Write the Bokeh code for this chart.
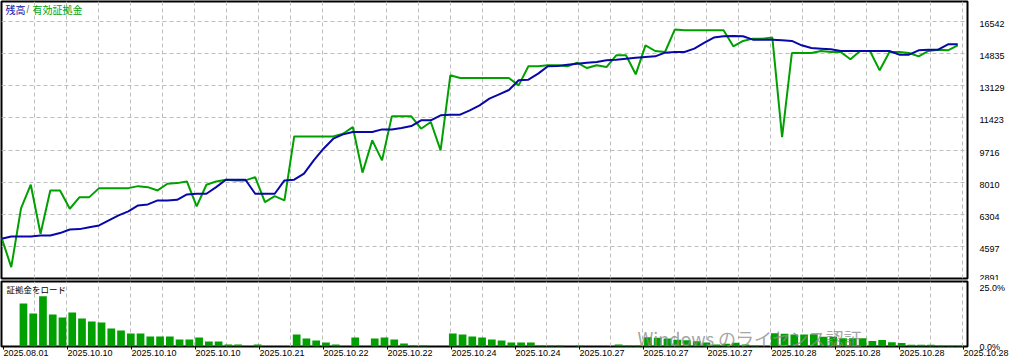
from bokeh.plotting import figure
from bokeh.models import Range1d, FixedTicker, Label, LinearAxis
from bokeh.layouts import column
from bokeh.embed import file_html
from bokeh.resources import INLINE

# ---------------- data ----------------
deal_index = list(range(99))
balance = [5001, 5124, 5124, 5124, 5177, 5177, 5304, 5496, 5514, 5618,
           5708, 5974, 6240, 6453, 6772, 6825, 7037, 7037, 7072, 7357,
           7393, 7393, 7744, 8138, 8138, 8138, 7393, 7393, 7393, 8101,
           8138, 8457, 9164, 9786, 10317, 10546, 10668, 10668, 10668, 10811,
           10811, 10881, 10988, 11290, 11290, 11556, 11593, 11593, 11822, 12088,
           12444, 12673, 12902, 13417, 13453, 13772, 14161, 14177, 14250, 14302,
           14355, 14390, 14480, 14514, 14567, 14620, 14656, 14692, 14887, 14922,
           14922, 15100, 15401, 15686, 15756, 15772, 15756, 15578, 15578, 15578,
           15543, 15508, 15277, 15135, 15100, 15065, 14975, 14975, 14975, 14975,
           14975, 14975, 14781, 14781, 15011, 15047, 15047, 15330, 15330]
equity = [5071, 3492, 6612, 7872, 5267, 7569, 7569, 6596, 7213, 7213,
          7691, 7691, 7691, 7691, 7797, 7744, 7569, 7925, 7957, 8047,
          6718, 7872, 8047, 8138, 8101, 8101, 8276, 6947, 7266, 7037,
          10440, 10440, 10440, 10440, 10440, 10582, 10935, 8514, 10227, 9164,
          11503, 11503, 11503, 10847, 11201, 9695, 13683, 13541, 13541, 13541,
          13541, 13541, 13541, 13151, 14161, 14161, 14214, 14214, 14161, 14355,
          14070, 14214, 14124, 14745, 14745, 13736, 15277, 14975, 14922, 16113,
          16074, 16074, 16074, 16074, 16074, 15224, 15508, 15632, 15632, 15686,
          10405, 14869, 14869, 14869, 14975, 14922, 14922, 14533, 14975, 14975,
          13948, 14922, 14922, 14869, 14692, 14975, 15047, 15011, 15277]
margin_load = [0, 0, 17.8, 13.6, 20.7, 13.2, 12.0, 14.0, 11.6, 10.3,
               9.9, 7.4, 6.6, 5.4, 5.4, 4.1, 4.1, 4.1, 2.9, 2.9,
               3.7, 2.1, 2.1, 0.8, 0.8, 0, 0.8, 0, 0, 0,
               5.0, 3.3, 2.5, 1.7, 0.8, 0, 3.7, 0, 3.3, 3.7,
               2.9, 1.2, 0.4, 0.4, 0, 0, 5.4, 5.0, 4.1, 3.7,
               2.9, 2.5, 1.7, 1.7, 1.7, 0.4, 0.4, 0.4, 0, 0.4,
               0, 0, 0, 0.8, 0.4, 0.4, 3.8, 3.6, 3.3, 2.8,
               2.6, 2.2, 1.6, 0.8, 1.1, 1.5, 0.8, 0.3, 0, 5.5,
               5.3, 5.0, 5.0, 5.1, 4.0, 4.0, 3.4, 3.4, 3.4, 2.3,
               2.7, 1.8, 1.4, 0.7, 0.7, 0.7, 0.3, 0.3, 0.3]
y_tick_values = [2891, 4597, 6304, 8010, 9716, 11423, 13129, 14835, 16542]
y_tick_labels = ["2891", "4597", "6304", "8010", "9716", "11423", "13129", "14835", "16542"]
load_tick_values = [0, 25]
load_tick_labels = ["0.0%", "25.0%"]
x_date_labels = ["2025.08.01", "2025.10.10", "2025.10.10", "2025.10.10",
                 "2025.10.21", "2025.10.22", "2025.10.22", "2025.10.24",
                 "2025.10.24", "2025.10.27", "2025.10.27", "2025.10.27",
                 "2025.10.28", "2025.10.28", "2025.10.28", "2025.10.28"]
title_balance = "残高"
title_sep = "/"
title_equity = "有効証拠金"
title_load = "証拠金をロード"
watermark = "Windows のライセンス認証"

# ---------------- style / layout ----------------
BLUE = "#0808A8"
GREEN = "#00A000"
GRID = "#BDBDBD"
W = 1011
FRAME_W = 966
X_END = 99
PX = FRAME_W / X_END
TOP_FH = 277
BOT_FH = 66
Y_START, Y_END = 2891, 17604
LOAD_END = 26.83
NUM_FONT = "Liberation Sans"
CJK_FONT = "Noto Sans CJK JP"

vgrid = [(33 + 32 * m) / PX for m in range(30)]
# date label anchors in frame pixels (extra x range in pixel units)
date_marks = [2 + 64 * m for m in range(len(x_date_labels))]


def style(p):
    p.min_border_left = 1
    p.min_border_right = W - 1 - FRAME_W
    p.min_border_top = 1
    p.outline_line_color = "black"
    p.outline_line_width = 2
    p.background_fill_color = "white"
    p.border_fill_color = "white"
    p.xgrid.ticker = FixedTicker(ticks=vgrid)
    p.xgrid.grid_line_color = GRID
    p.xgrid.grid_line_dash = "4 3"
    ax = p.yaxis[0]
    ax.axis_line_color = None
    ax.major_tick_line_color = None
    ax.minor_tick_line_color = None
    ax.major_label_standoff = 6
    ax.major_label_text_font = NUM_FONT
    ax.major_label_text_font_size = "9px"
    ax.major_label_text_color = "black"


# ---------------- top: balance / equity ----------------
top = figure(width=W, height=1 + TOP_FH + 2, output_backend="svg", toolbar_location=None,
             x_range=Range1d(0, X_END), y_range=Range1d(Y_START, Y_END),
             x_axis_location=None, y_axis_location="right")
style(top)
top.min_border_bottom = 2
unit_px = (Y_END - Y_START) / TOP_FH
tick_pos = [int(round(max(v - 2.5 * unit_px, Y_START))) for v in y_tick_values]
top.yaxis[0].ticker = FixedTicker(ticks=tick_pos)
top.yaxis[0].major_label_overrides = dict(zip(tick_pos, y_tick_labels))
top.ygrid.ticker = FixedTicker(ticks=y_tick_values[1:])
top.ygrid.grid_line_color = GRID
top.ygrid.grid_line_dash = "4 3"

top.line(deal_index, equity, line_color=GREEN, line_width=2)
top.line(deal_index, balance, line_color=BLUE, line_width=2)

top.add_layout(Label(x=4, y=TOP_FH - 8, x_units="screen", y_units="screen", text=title_balance,
                     text_font=CJK_FONT, text_font_size="10px", text_color=BLUE,
                     text_baseline="middle"))
top.add_layout(Label(x=25, y=TOP_FH - 8, x_units="screen", y_units="screen", text=title_sep,
                     text_font=NUM_FONT, text_font_size="10px", text_color="#8A6A40",
                     text_baseline="middle"))
top.add_layout(Label(x=31, y=TOP_FH - 8, x_units="screen", y_units="screen", text=title_equity,
                     text_font=CJK_FONT, text_font_size="10px", text_color=GREEN,
                     text_baseline="middle"))

# ---------------- bottom: margin load ----------------
bot = figure(width=W, height=81, output_backend="svg", toolbar_location=None,
             x_range=Range1d(0, X_END), y_range=Range1d(0, LOAD_END),
             x_axis_location=None, y_axis_location="right")
style(bot)
bot.min_border_bottom = 14
bot.ygrid.grid_line_color = None
lpx = LOAD_END / BOT_FH
load_pos = [int(round(max(v - 2.5 * lpx, 0))) if v > 0 else 0 for v in load_tick_values]
bot.yaxis[0].ticker = FixedTicker(ticks=load_pos)
bot.yaxis[0].major_label_overrides = dict(zip(load_pos, load_tick_labels))

bot.extra_x_ranges = {"px": Range1d(0, FRAME_W)}
xa = LinearAxis(x_range_name="px", ticker=FixedTicker(ticks=date_marks),
                major_label_overrides=dict(zip(date_marks, x_date_labels)))
xa.axis_line_color = None
xa.major_tick_line_color = "black"
xa.major_tick_out = 3
xa.major_tick_in = 0
xa.minor_tick_line_color = None
xa.major_label_orientation = -1e-7   # tiny negative angle -> labels start at the tick
xa.major_label_standoff = 3
xa.major_label_text_font = NUM_FONT
xa.major_label_text_font_size = "9px"
xa.major_label_text_color = "black"
bot.add_layout(xa, "below")

bot.vbar(x=[i + 0.25 for i in deal_index], top=margin_load, width=0.79,
         fill_color=GREEN, line_color=None)

bot.add_layout(Label(x=5, y=BOT_FH - 8, x_units="screen", y_units="screen", text=title_load,
                     text_font=CJK_FONT, text_font_size="8.5px", text_color="black",
                     text_baseline="middle"))
bot.add_layout(Label(x=636, y=-4, x_units="screen", y_units="screen", text=watermark,
                     text_font=CJK_FONT, text_font_size="18px", text_color="#8E8E8E",
                     text_alpha=0.8, text_baseline="bottom"))

layout = column(top, bot)
open("out.html", "w").write(file_html(layout, INLINE))
